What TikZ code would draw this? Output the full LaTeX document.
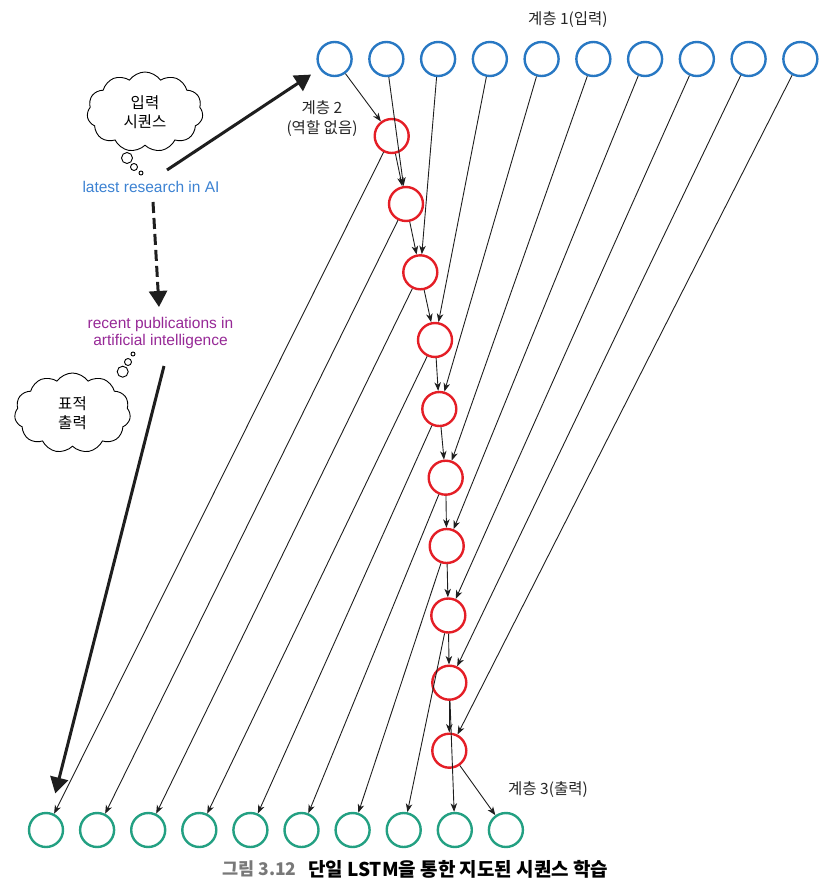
\documentclass[tikz,border=0pt]{standalone}
\usepackage{fontspec}
\setmainfont{Liberation Sans}
\newfontfamily\cjk{Noto Sans CJK KR}
\usetikzlibrary{shapes.symbols,arrows.meta,calc}
\definecolor{blueC}{RGB}{40,120,195}
\definecolor{redC}{RGB}{228,30,38}
\definecolor{greenC}{RGB}{35,160,130}
\definecolor{latestC}{RGB}{60,130,210}
\definecolor{purpleC}{RGB}{150,40,150}
\definecolor{inkC}{RGB}{30,30,30}
\definecolor{capgray}{RGB}{120,120,120}
\begin{document}
\begin{tikzpicture}[x=1pt,y=-1pt,
  unit/.style={circle,minimum size=34pt,inner sep=0pt,line width=2.4pt,draw},
  inp/.style={unit,draw=blueC},
  hid/.style={unit,draw=redC},
  outn/.style={unit,draw=greenC},
  conn/.style={line width=0.9pt,draw=inkC,-{Stealth[length=8.5pt,width=6.5pt,inset=2.5pt]}},
  bigarrow/.style={line width=3pt,draw=inkC,-{Triangle[length=16pt,width=18pt]}},
  thought/.style={cloud,cloud puffs=11,cloud puff arc=110,aspect=1.45,draw,line width=0.9pt,
    minimum width=116pt,minimum height=80pt,align=center,inner sep=0pt,
    font=\cjk\fontsize{15.5}{19}\selectfont},
  bubble/.style={line width=0.9pt,draw},
  lbl/.style={font=\cjk\fontsize{15.5}{20}\selectfont,align=center,text=black!85}
]
\useasboundingbox (0,0) rectangle (828,893);

% layer 1 (input)
\foreach \i in {1,...,10}
  \node[inp] (b\i) at ({334.6+51.75*(\i-1)},59) {};
% layer 3 (output)
\foreach \i in {1,...,10}
  \node[outn] (g\i) at ({46+51.1*(\i-1)},830) {};
% layer 2 (hidden)
\node[hid] (r1)  at (391.7,136) {};
\node[hid] (r2)  at (406,204) {};
\node[hid] (r3)  at (420.3,272.3) {};
\node[hid] (r4)  at (435,340) {};
\node[hid] (r5)  at (439.3,409) {};
\node[hid] (r6)  at (445.7,477.7) {};
\node[hid] (r7)  at (446.7,546) {};
\node[hid] (r8)  at (448.3,615.5) {};
\node[hid] (r9)  at (449.3,682.7) {};
\node[hid] (r10) at (449.3,750.7) {};

% connectors
\foreach \i in {1,...,10} {
  \draw[conn] (b\i) -- (r\i);
  \draw[conn] (r\i) -- (g\i);
}
\foreach \i/\j in {1/2,2/3,3/4,4/5,5/6,6/7,7/8,8/9,9/10}
  \draw[conn] (r\i) -- (r\j);

% labels
\node[lbl] (l1) at (567.8,19.5) {계층 1(입력)};
\node[lbl] (l2) at (322,119) {계층 2\\(역할 없음)};
\node[lbl] (l3) at (548,790) {계층 3(출력)};

% sequences
\node[font=\fontsize{15.5}{17.7}\selectfont,text=latestC] (latest) at (151,187) {latest research in AI};
\node[font=\fontsize{15.5}{17.7}\selectfont,text=purpleC,align=center] (recent) at (160.5,333)
  {recent publications in\\artificial intelligence};

% clouds
\node[thought] (cin) at (145,112) {입력\\시퀀스};
\node[thought] (cout) at (72.5,413) {표적\\출력};
\draw[bubble] (127,158) circle (5.5pt);
\draw[bubble] (134,167) circle (3.5pt);
\draw[bubble] (141,173) circle (2pt);
\draw[bubble] (122.7,371.7) circle (5.5pt);
\draw[bubble] (128,362) circle (3.5pt);
\draw[bubble] (133,354) circle (2pt);

% thick arrows
\coordinate (s1) at (167,170);
\draw[bigarrow,shorten >=10pt] (s1) -- (b1);
\coordinate (d1) at (153,202);
\coordinate (d2) at (159,307);
\draw[bigarrow,dash pattern=on 11pt off 5pt] (d1) -- (d2);
\coordinate (s3) at (164,366);
\draw[bigarrow,shorten >=19.5pt] (s3) -- (g1);

% caption
\node[anchor=west,font=\cjk\bfseries\fontsize{17.5}{20}\selectfont,text=capgray,inner sep=0pt] (capnum) at (222,869) {그림 3.12};
\node[anchor=west,font=\cjk\bfseries\fontsize{19}{22}\selectfont,text=black,inner sep=0pt] (captext) at (308,869) {단일 LSTM을 통한 지도된 시퀀스 학습};
\end{tikzpicture}
\end{document}
